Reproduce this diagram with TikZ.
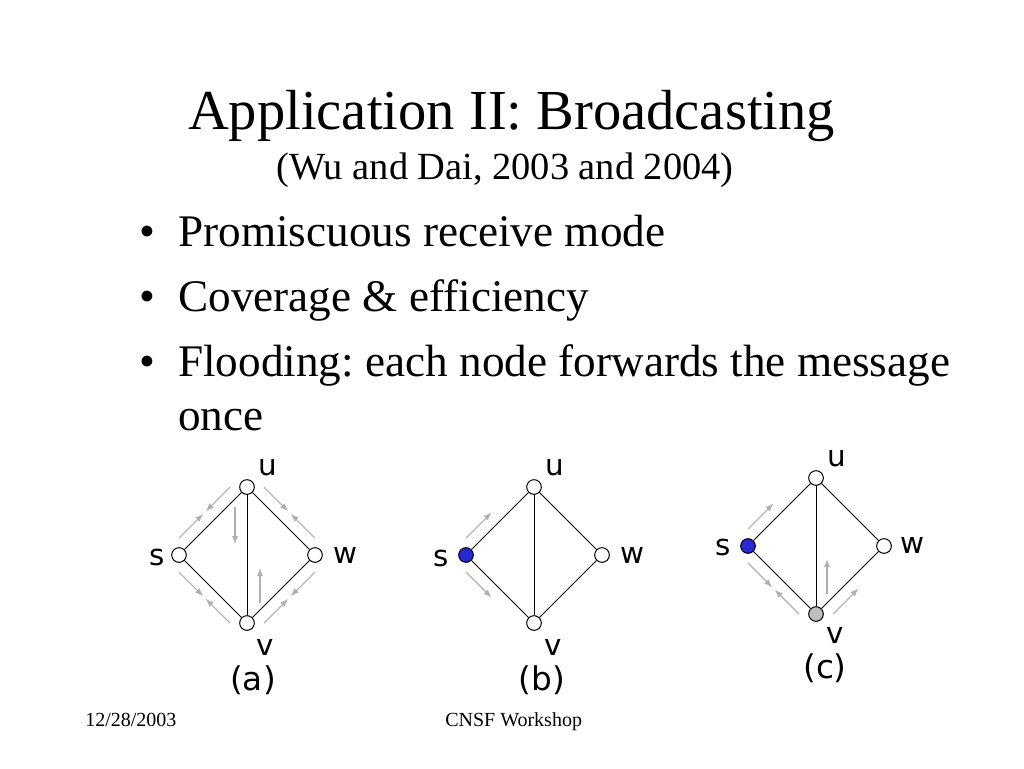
\documentclass[tikz,border=0pt]{standalone}
\usepackage{fontspec}
\setmainfont{Liberation Serif}[Ligatures=NoCommon]
\newfontfamily\graphfont{DejaVu Sans}
\usepackage{xcolor}
\usepackage{tikz}
\usetikzlibrary{calc}
\usetikzlibrary{arrows.meta}
\definecolor{srcblue}{RGB}{40,40,210}
\definecolor{fwdgray}{RGB}{190,190,190}
\definecolor{msggray}{RGB}{175,175,175}
\frenchspacing

\tikzset{
	station/.style={circle,draw,line width=0.75pt,fill=white,minimum size=11pt,inner sep=0pt},
	link/.style={line width=0.75pt},
	msg/.style={msggray,line width=0.8pt,-{Latex[length=6pt,width=4.5pt]}},
	lbl/.style={font=\graphfont\fontsize{22pt}{26pt}\selectfont,inner sep=0pt},
	caption/.style={font=\graphfont\fontsize{24.5pt}{29pt}\selectfont,inner sep=0pt},
	slidetext/.style={inner sep=0pt,anchor=base west},
}

\begin{document}
\begin{tikzpicture}[x=0.75pt,y=-0.75pt]
	
	\fill[white] (0,0) rectangle (1024,768);
	\useasboundingbox (0,0) rectangle (1024,768);
	
	% title and bullets
	\node[inner sep=0pt,anchor=base,font=\fontsize{42.4pt}{50pt}\selectfont] (title) at (511.5,129) {Application II: Broadcasting};
	\node[inner sep=0pt,anchor=base,font=\fontsize{28.8pt}{34pt}\selectfont] (subtitle) at (505,179) {(Wu and Dai, 2003 and 2004)};
	
	\node[inner sep=0pt,anchor=base,font=\fontsize{33.9pt}{40pt}\selectfont] (b1) at (147.5,246) {\textbullet};
	\node[slidetext,font=\fontsize{33.9pt}{40pt}\selectfont] (t1) at (178,246) {Promiscuous receive mode};
	\node[inner sep=0pt,anchor=base,font=\fontsize{33.9pt}{40pt}\selectfont] (b2) at (147.5,311) {\textbullet};
	\node[slidetext,font=\fontsize{33.9pt}{40pt}\selectfont] (t2) at (178,311) {Coverage \& efficiency};
	\node[inner sep=0pt,anchor=base,font=\fontsize{33.9pt}{40pt}\selectfont] (b3) at (147.5,376) {\textbullet};
	\node[slidetext,font=\fontsize{33.9pt}{40pt}\selectfont] (t3) at (178,376) {Flooding: each node forwards the message};
	\node[slidetext,font=\fontsize{33.9pt}{40pt}\selectfont] (t4) at (178,430) {once};
	
	\node[slidetext,font=\fontsize{15pt}{18pt}\selectfont] (date) at (85,726) {12/28/2003};
	\node[slidetext,font=\fontsize{15pt}{18pt}\selectfont] (event) at (445,726) {CNSF Workshop};
	
	% (a) flooding
	\node[station] (a-u) at (247,487) {};
	\node[station] (a-s) at (179,555) {};
	\node[station] (a-w) at (315,555) {};
	\node[station] (a-v) at (247,623) {};
	\draw[link] (a-s) -- (a-u) -- (a-w) -- (a-v) -- (a-s);
	\draw[link] (a-u) -- (a-v);
	\node[lbl] at ($(a-u)+(21,-20)$) {u};
	\node[lbl] at ($(a-s)+(-22,2)$) {s};
	\node[lbl] at ($(a-w)+(30,0)$) {w};
	\node[lbl] at ($(a-v)+(18,24)$) {v};
	\node[caption] at ($(a-v)+(6,57)$) {(a)};
	
	\draw[msg] ($(a-s)+(0,-17)$) -- ($(a-s)!0.48!(a-u)+(-8.5,-8.5)$);
	\draw[msg] ($(a-u)+(-17,0)$) -- ($(a-u)!0.48!(a-s)+(-8.5,-8.5)$);
	\draw[msg] ($(a-u)+(17,0)$) -- ($(a-u)!0.48!(a-w)+(8.5,-8.5)$);
	\draw[msg] ($(a-w)+(0,-17)$) -- ($(a-w)!0.48!(a-u)+(8.5,-8.5)$);
	\draw[msg] ($(a-s)+(0,17)$) -- ($(a-s)!0.48!(a-v)+(-8.5,8.5)$);
	\draw[msg] ($(a-v)+(-17,0)$) -- ($(a-v)!0.48!(a-s)+(-8.5,8.5)$);
	\draw[msg] ($(a-v)+(17,0)$) -- ($(a-v)!0.48!(a-w)+(8.5,8.5)$);
	\draw[msg] ($(a-w)+(0,17)$) -- ($(a-w)!0.48!(a-v)+(8.5,8.5)$);
	\draw[msg] ($(a-u)+(-12,20)$) -- ($(a-u)+(-12,57)$);
	\draw[msg] ($(a-v)+(13,-20)$) -- ($(a-v)+(13,-55)$);
	
	% (b) source s
	\node[station] (b-u) at (534,487) {};
	\node[station,fill=srcblue] (b-s) at (466,555) {};
	\node[station] (b-w) at (602,555) {};
	\node[station] (b-v) at (534,623) {};
	\draw[link] (b-s) -- (b-u) -- (b-w) -- (b-v) -- (b-s);
	\draw[link] (b-u) -- (b-v);
	\node[lbl] at ($(b-u)+(21,-20)$) {u};
	\node[lbl] at ($(b-s)+(-25,3)$) {s};
	\node[lbl] at ($(b-w)+(30,0)$) {w};
	\node[lbl] at ($(b-v)+(19,24)$) {v};
	\node[caption] at ($(b-v)+(8,57)$) {(b)};
	
	\draw[msg] ($(b-s)+(0,-17)$) -- ($(b-s)!0.5!(b-u)+(-8.5,-8.5)$);
	\draw[msg] ($(b-s)+(0,17)$) -- ($(b-s)!0.5!(b-v)+(-8.5,8.5)$);
	
	% (c) v forwards
	\node[station] (c-u) at (816,478) {};
	\node[station,fill=srcblue] (c-s) at (748,546) {};
	\node[station] (c-w) at (884,546) {};
	\node[station,fill=fwdgray] (c-v) at (816,614) {};
	\draw[link] (c-s) -- (c-u) -- (c-w) -- (c-v) -- (c-s);
	\draw[link] (c-u) -- (c-v);
	\node[lbl] at ($(c-u)+(21,-20)$) {u};
	\node[lbl] at ($(c-s)+(-25,1)$) {s};
	\node[lbl] at ($(c-w)+(28,-1)$) {w};
	\node[lbl] at ($(c-v)+(19,21)$) {v};
	\node[caption] at ($(c-v)+(9,54)$) {(c)};
	
	\draw[msg] ($(c-s)+(0,-17)$) -- ($(c-s)!0.5!(c-u)+(-8.5,-8.5)$);
	\draw[msg] ($(c-s)+(0,17)$) -- ($(c-s)!0.48!(c-v)+(-8.5,8.5)$);
	\draw[msg] ($(c-v)+(-17,0)$) -- ($(c-v)!0.48!(c-s)+(-8.5,8.5)$);
	\draw[msg] ($(c-v)+(17,0)$) -- ($(c-v)!0.5!(c-w)+(8.5,8.5)$);
	\draw[msg] ($(c-v)+(11,-20)$) -- ($(c-v)+(11,-55)$);
	
\end{tikzpicture}
\end{document}
